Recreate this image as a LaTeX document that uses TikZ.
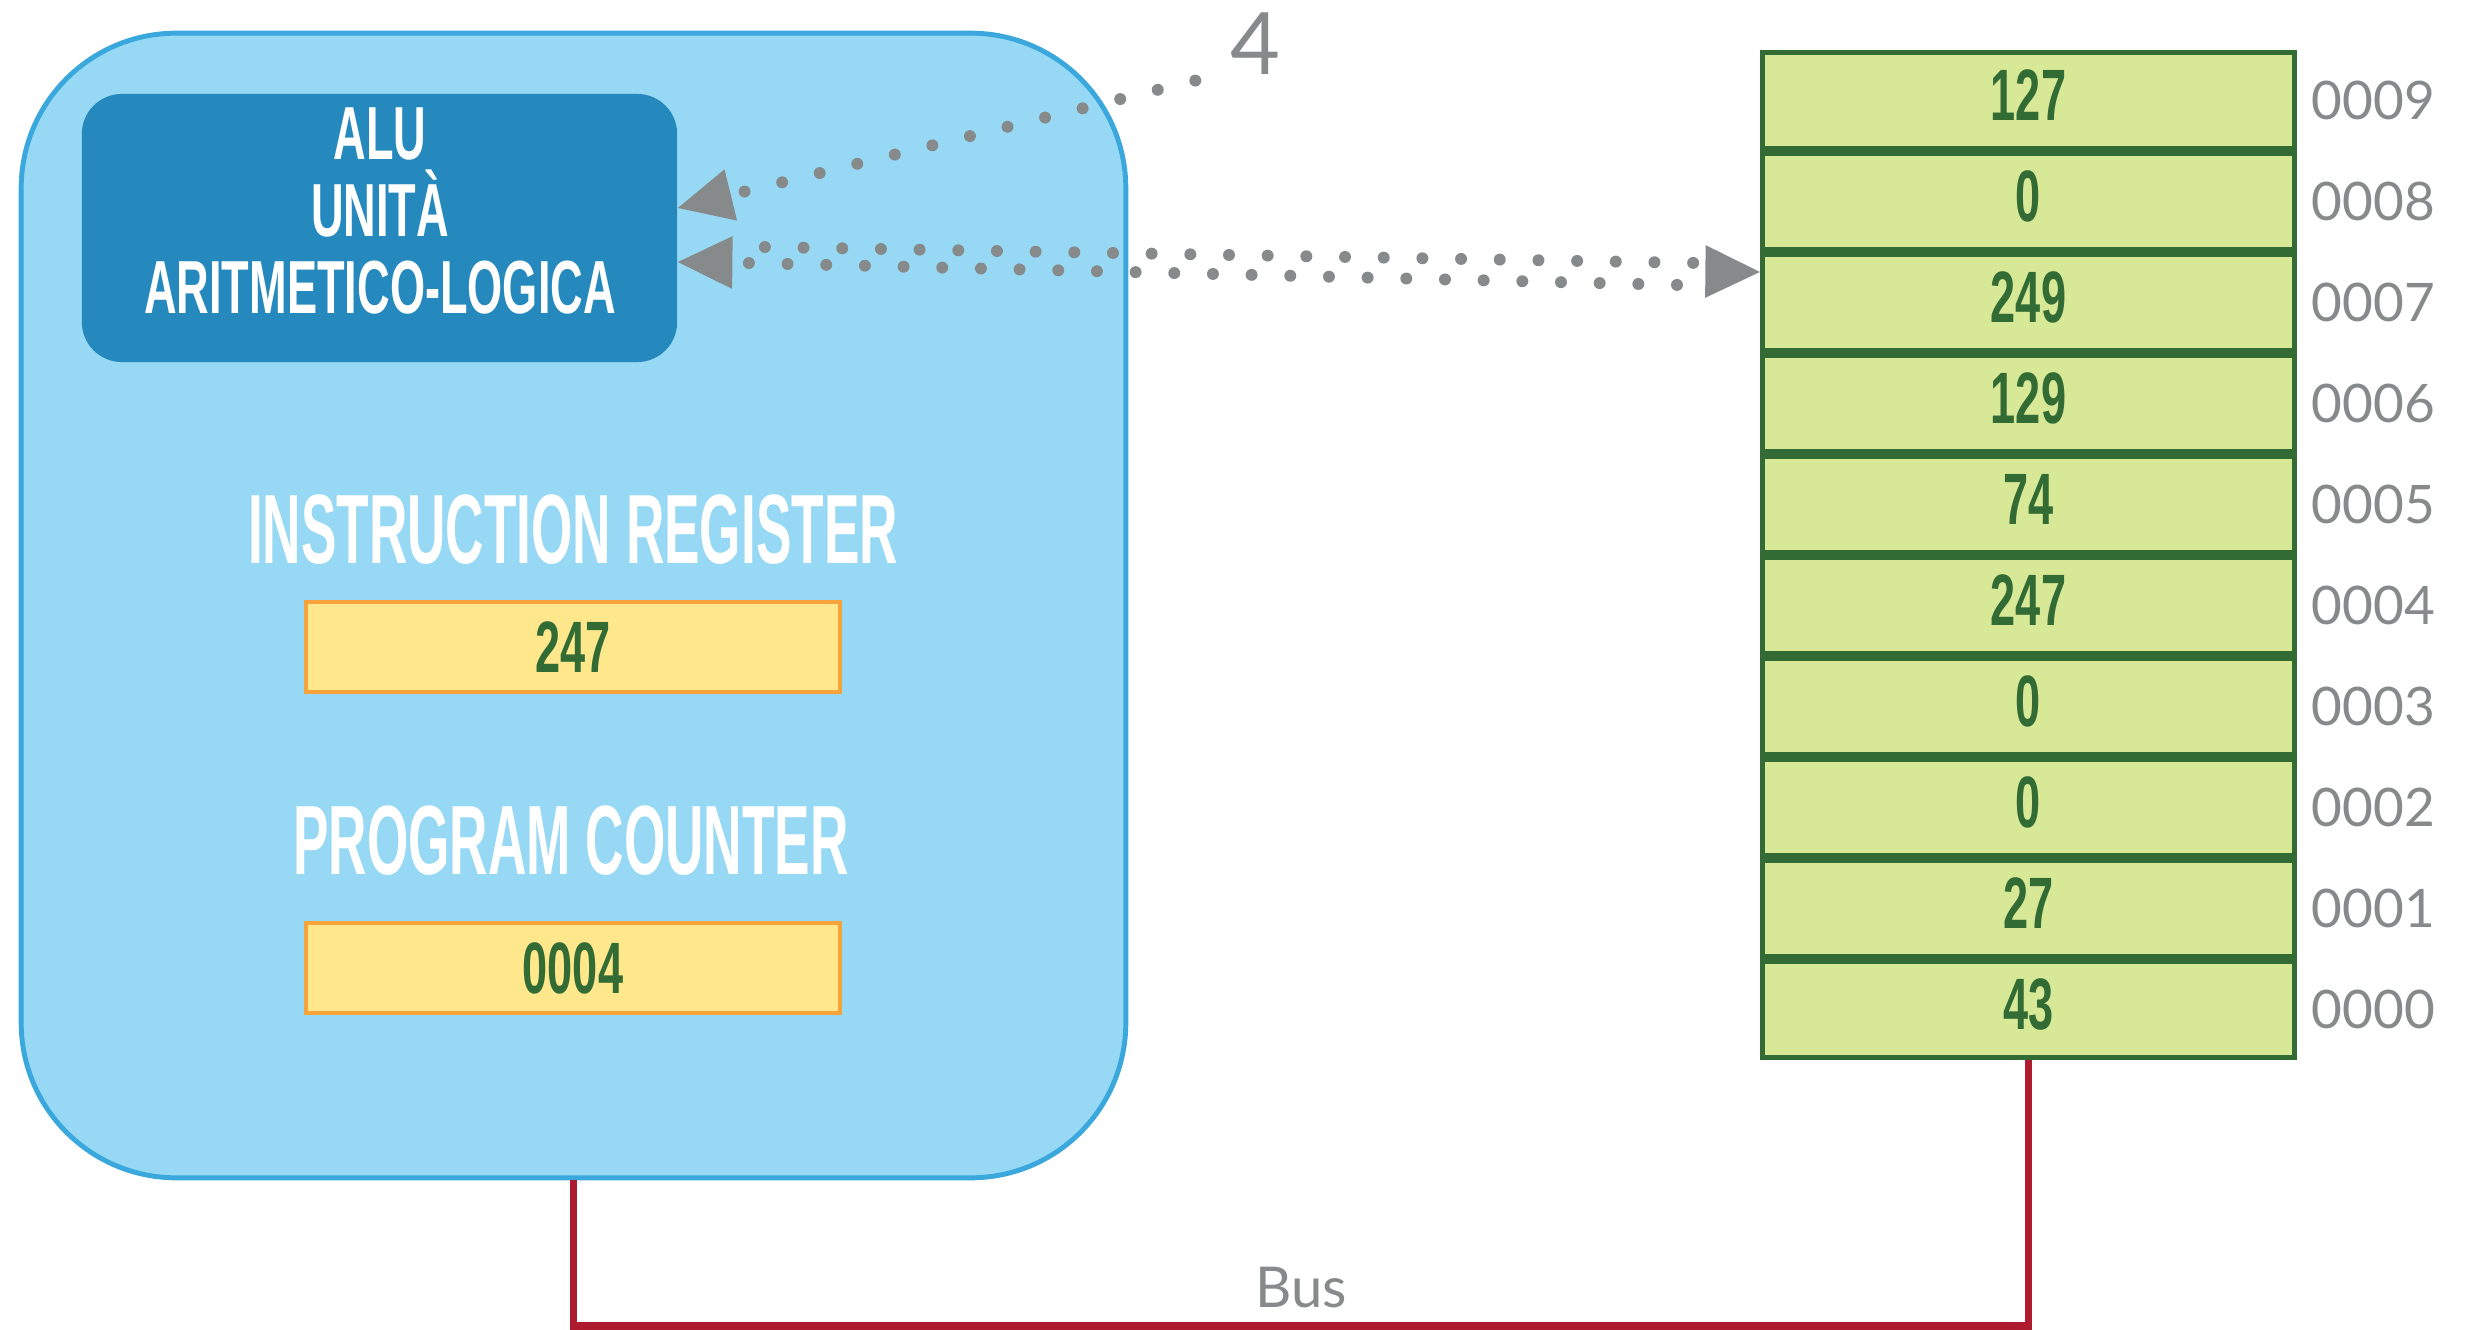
\documentclass[tikz,border=0pt]{standalone}
\usepackage{fontspec}
\setmainfont{Lato}
\newfontfamily\condfont[FakeStretch=0.54]{Liberation Sans}
\newfontfamily\alufont[FakeStretch=0.6]{Liberation Sans}
\newfontfamily\numfont[FakeStretch=0.62]{Liberation Sans}
\usetikzlibrary{arrows.meta}

\definecolor{cpufill}{HTML}{97D9F5}
\definecolor{cpuline}{HTML}{3AA7DD}
\definecolor{alufill}{HTML}{2589BE}
\definecolor{regfill}{HTML}{FFE88C}
\definecolor{regline}{HTML}{F7A33B}
\definecolor{memfill}{HTML}{D7E897}
\definecolor{memgreen}{HTML}{336B35}
\definecolor{dotgray}{HTML}{878A8A}
\definecolor{busred}{HTML}{AE1A2E}

\tikzset{
  cpubox/.style={draw=cpuline, fill=cpufill, line width=1.4pt, rounded corners=1.55cm,
    minimum width=11.04cm, minimum height=11.44cm},
  alubox/.style={fill=alufill, rounded corners=0.4cm, minimum width=5.95cm, minimum height=2.68cm},
  alutxt/.style={text=white, align=center, inner sep=0pt,
    font=\alufont\bfseries\fontsize{21.4}{21.9}\selectfont},
  reglabel/.style={text=white, inner sep=0pt, font=\condfont\bfseries\fontsize{28}{30}\selectfont},
  regbox/.style={draw=regline, fill=regfill, line width=1.2pt, minimum width=5.34cm,
    minimum height=0.9cm, text=memgreen, font=\numfont\bfseries\fontsize{20.7}{22}\selectfont},
  memcell/.style={draw=memgreen, fill=memfill, line width=1.4pt, minimum width=5.32cm,
    minimum height=0.96cm, inner sep=0pt, text depth=0.1cm, text=memgreen,
    font=\numfont\bfseries\fontsize{20.7}{22}\selectfont},
  addr/.style={text=dotgray, inner sep=1pt, font=\fontsize{15.1}{17}\selectfont},
  dotline/.style={draw=dotgray, line width=3.4pt, line cap=round, dash pattern=on 0pt off 11pt},
  headonly/.style={draw=dotgray, line width=3.4pt, line cap=butt, dash pattern=on 0pt off 2000pt},
  bus/.style={draw=busred, line width=2pt},
  bigtip/.tip={Triangle[length=15.5pt, width=15pt, line width=0pt]},
}

\begin{document}
\begin{tikzpicture}[x=0.01cm, y=-0.01cm]
\useasboundingbox (0,0) rectangle (2468,1330);

% CPU
\node[cpubox] (cpu) at (573.5,605.5) {};
\node[alubox] (alu) at (379.5,228) {};
\node[alutxt] (alutext) at (380,211) {ALU\\UNITÀ\\ARITMETICO-LOGICA};
\node[reglabel] (irlabel) at (573,530) {INSTRUCTION REGISTER};
\node[regbox] (ir) at (573,647) {247};
\node[reglabel] (pclabel) at (571,841) {PROGRAM COUNTER};
\node[regbox] (pc) at (573,968) {0004};

% memoria
\foreach \v [count=\i from 0] in {43,27,0,0,247,74,129,249,0,127}
  \node[memcell, label={[addr, label distance=3pt]right:000\i}] (cell\i) at (2028.5,{1009.5-101*\i}) {\v};

% indirizzo 4
\node[text=dotgray, inner sep=0pt, font=\fontsize{24.5}{26}\selectfont] (four) at (1255,44) {4};

% frecce
\draw[dotline, -bigtip] ([shift={(-34,5)}]four.south west) -- ([yshift=0.2cm]alu.east);
\coordinate (l2) at ([yshift=-0.34cm]alu.east);
\coordinate (r2) at ([yshift=0.305cm]cell7.west);
\draw[headonly, bigtip-bigtip] (l2) -- (r2);
\draw[dotline] ([shift={(87,-15)}]l2) -- ([shift={(-62,-9)}]r2);
\draw[dotline] ([shift={(71,1)}]l2) -- ([shift={(-79,13)}]r2);

% bus
\coordinate (busbase) at (0,1326);
\draw[bus] (cpu.south) -- (cpu.south |- busbase) -| node[pos=0.25, above=4pt, inner sep=0pt, text=dotgray,
  font=\fontsize{16}{18}\selectfont] (buslabel) {Bus} (cell0.south);

\end{tikzpicture}
\end{document}
